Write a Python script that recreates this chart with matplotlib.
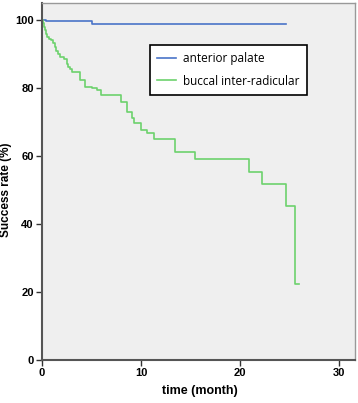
import matplotlib
matplotlib.use("Agg")
import matplotlib.pyplot as plt

# anterior palate (blue)
palate_t = [0, 0.4, 5.0, 24.6]
palate_s = [100, 99.6, 98.8, 98.8]

# buccal inter-radicular (green)
buccal_t = [0, 0.1, 0.2, 0.3, 0.4, 0.5, 0.7, 0.9, 1.1, 1.3, 1.45, 1.6, 1.8,
            2.2, 2.5, 2.6, 2.8, 3.0, 3.8, 4.3, 5.0, 5.6, 6.0, 8.0, 8.6, 9.1,
            9.3, 10.0, 10.6, 11.3, 13.4, 15.4, 20.9, 22.2, 24.6, 25.5, 25.9]
buccal_s = [100, 99, 98, 97, 96, 95, 94.5, 94, 93.3, 92, 91, 90, 89.2,
            88.5, 87, 86.3, 85.5, 84.8, 82.4, 80.4, 79.9, 79.3, 78.0, 76.0, 73.0, 71.2,
            69.8, 67.6, 66.7, 64.9, 61.2, 59.1, 55.4, 51.8, 45.2, 22.5, 22.5]

xticks = [0, 10, 20, 30]
yticks = [0, 20, 40, 60, 80, 100]

fig = plt.figure(figsize=(3.58, 4.03), dpi=100)
ax = fig.add_axes([42/358, 1 - 360/403, (355-42)/358, (360-3)/403])
ax.set_facecolor("#efefef")

ax.step(palate_t, palate_s, where="post", color="#4a74c8", lw=1.2, label="anterior palate")
ax.step(buccal_t, buccal_s, where="post", color="#6dd26d", lw=1.2, label="buccal inter-radicular")

ax.set_xlim(0, 31.6)
ax.set_ylim(0, 105)
ax.set_xticks(xticks)
ax.set_yticks(yticks)
ax.tick_params(direction="out", length=4, width=1, labelsize=8, pad=2, color="#333333")
for lab in ax.get_xticklabels() + ax.get_yticklabels():
    lab.set_fontweight("bold")
    lab.set_family("Liberation Sans")

for s in ["left", "bottom"]:
    ax.spines[s].set_color("#555555")
    ax.spines[s].set_linewidth(1.5)
for s in ["top", "right"]:
    ax.spines[s].set_color("#999999")
    ax.spines[s].set_linewidth(1.0)

ax.set_xlabel("time (month)", fontsize=9, fontweight="bold", family="Liberation Sans")
ax.set_ylabel("Success rate (%)", fontsize=8.5, fontweight="bold", family="Liberation Sans")
ax.xaxis.set_label_coords((200-42)/313, (360-385)/357)
ax.yaxis.set_label_coords((12-42)/313, (360-190)/357)

leg = ax.legend(loc="upper left", bbox_to_anchor=((150-42)/313, (360-45)/357),
                frameon=True, fancybox=False, handlelength=1.6, handletextpad=0.6,
                borderpad=0.6, borderaxespad=0, labelspacing=0.8,
                prop={"family": "Open Sans", "size": 8.5})
leg.get_frame().set_edgecolor("black")
leg.get_frame().set_linewidth(1.2)
leg.get_frame().set_facecolor("white")
leg.get_frame().set_alpha(1)

fig.savefig("out.png", dpi=100)
